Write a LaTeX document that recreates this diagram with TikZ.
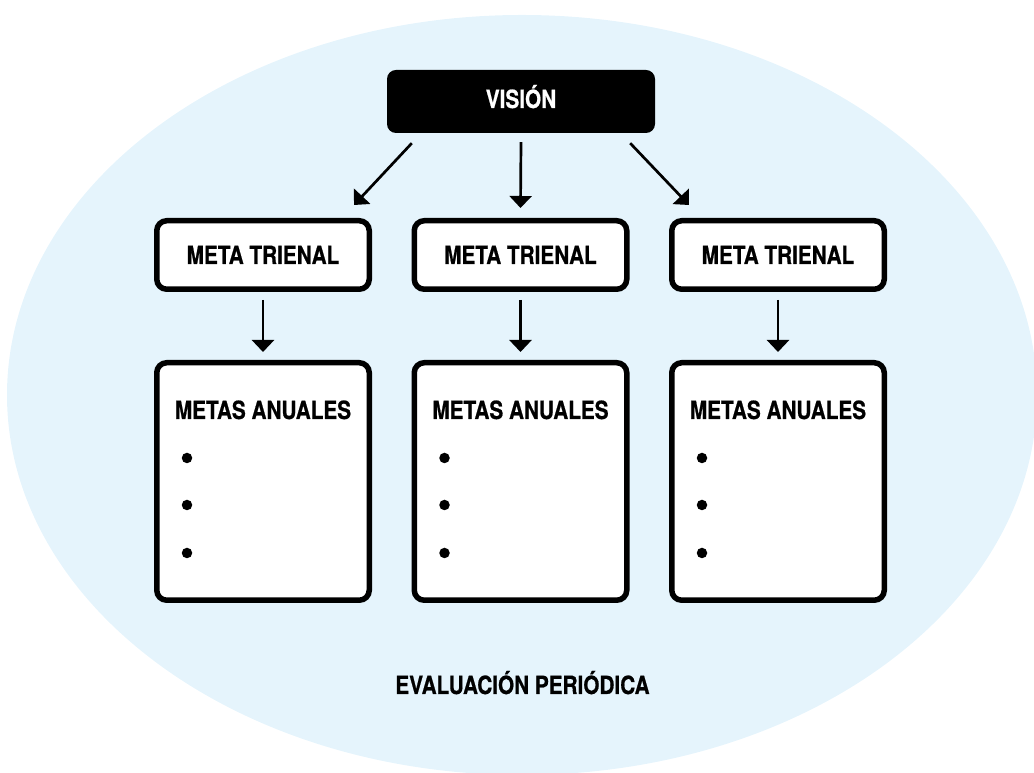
\documentclass[tikz,border=0pt]{standalone}
\usepackage{fontspec}
\setmainfont{TeX Gyre Heros}[FakeStretch=0.83,BoldFeatures={FakeBold=0.7}]
\usetikzlibrary{arrows.meta,positioning}
\definecolor{fondo}{HTML}{E5F4FC}

\begin{document}
\begin{tikzpicture}[x=1pt,y=1pt,
  every node/.style={font=\fontsize{25}{30}\selectfont\bfseries},
  caja/.style={draw,line width=5.5pt,rounded corners=10pt,fill=white,minimum width=212.5pt},
  trienal/.style={caja,minimum height=68.5pt,text height=18pt,text depth=0pt},
  anual/.style={caja,minimum height=237.5pt},
  vineta/.style={circle,fill,inner sep=0pt,minimum size=10.5pt},
  flecha/.style={line width=2.7pt,-{Triangle[width=22pt,length=12pt]}},
]
\useasboundingbox (0,0) rectangle (1034,773);
\fill[fondo] (522,378) ellipse [x radius=515pt, y radius=380pt];

\node[fill=black,text=white,rounded corners=9pt,minimum width=268pt,minimum height=63pt,
  text height=18pt,text depth=5pt] (vision) at (521,671.5) {VISIÓN};

\foreach \i/\x in {1/263,2/520.5,3/778} {
  \node[trienal] (t\i) at (\x,518) {META TRIENAL};
  \node[anual] (a\i) at (\x,291.5) {};
  \node[anchor=base] (a\i titulo) at ([yshift=-59]a\i.north) {METAS ANUALES};
  \foreach \j/\d in {1/98,2/145,3/193}
    \node[vineta] (v\i\j) at ([xshift=33,yshift=-\d]a\i.north west) {};
  \draw[flecha,shorten <=8pt,shorten >=8pt] (t\i) -- (a\i);
}

\draw[flecha] ([yshift=-9]vision.south) -- ([yshift=10]t2.north);
\draw[flecha] ([xshift=25,yshift=-10]vision.south west) -- ([xshift=-18,yshift=13]t1.north east);
\draw[flecha] ([xshift=-25,yshift=-10]vision.south east) -- ([xshift=20,yshift=13]t3.north west);

\node[anchor=base] (evaluacion) at (522.5,79) {EVALUACIÓN PERIÓDICA};
\end{tikzpicture}
\end{document}
